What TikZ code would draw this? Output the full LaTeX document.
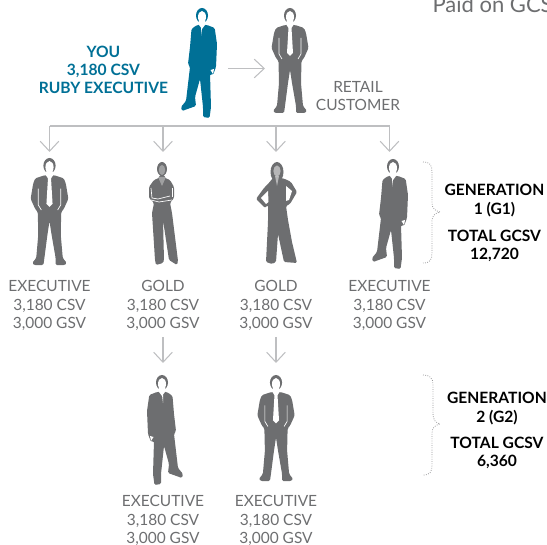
\documentclass[tikz,border=0pt]{standalone}
\usepackage{fontspec}
\setmainfont{Lato}
\usepackage{tikz}
\usepackage{xcolor}
\usetikzlibrary{arrows.meta}
\definecolor{figgray}{RGB}{109,110,112}
\definecolor{rubyblue}{RGB}{0,112,150}
\definecolor{arrowgray}{RGB}{190,191,193}
\tikzset{every picture/.style={line width=0.75pt}}
\tikzset{
  level/.style={draw=arrowgray,line width=1.1pt,-{Straight Barb[length=7.5pt,width=14pt,line width=0.8pt]}},
  busline/.style={draw=arrowgray,line width=1.1pt},
  brace/.style={draw=figgray!70,line width=0.6pt,dash pattern={on 0.6pt off 1.1pt}},
  member/.style={font=\fontsize{11.6}{14}\selectfont,text=figgray,align=center,inner sep=0pt},
  genlabel/.style={font=\fontsize{11.7}{13.6}\selectfont\bfseries,text=black,align=center,inner sep=0pt},
  %man seen from the front, hands in pockets
  manfront/.pic={
    \path[pic actions,rounded corners=1] (-5,17) -- (-14,20) -- (-16,25) -- (-18.5,40) -- (-14,50) -- (-11.5,53) -- (-11,75) -- (-13,98) -- (-17,103) -- (-15,105) -- (-6,105) -- (-5,98) -- (-2,75) -- (0,62) -- (2,75) -- (6,98) -- (6,105) -- (15,105) -- (17,103) -- (13,98) -- (11,75) -- (11.5,53) -- (14,50) -- (18.5,40) -- (16,25) -- (14,20) -- (5,17) -- cycle;
    \path[pic actions] (0,7.5) ellipse [x radius=6,y radius=7.5];
    \fill[white] (0,9) ellipse [x radius=4,y radius=6];
    \fill[white] (-3,12) -- (3,12) -- (3.5,17) -- (1.5,20) -- (3,45) -- (0,48) -- (-3,45) -- (-1.5,20) -- (-3.5,17) -- cycle;
    \draw[white,line width=0.5pt] (-11,30) -- (-11,46) -- (-8,51);
    \draw[white,line width=0.5pt] (11,30) -- (11,46) -- (8,51);
  },
  %man standing turned, one foot out
  manturned/.pic={
    \path[pic actions,rounded corners=1] (-5,17) -- (-10.5,21) -- (-12,39) -- (-14,56) -- (-12,59) -- (-16,93) -- (-21,99) -- (-20,103) -- (-6,98) -- (-7,89) -- (-2,71) -- (1,99) -- (1,109) -- (7.5,110) -- (9,99) -- (8,66) -- (11,67) -- (14,59) -- (15,36) -- (12.7,20) -- (5,17) -- cycle;
    \path[pic actions] (0,7.5) ellipse [x radius=6,y radius=7.5];
    \fill[white] (0,9) ellipse [x radius=4,y radius=6];
    \fill[white] (-3,12) -- (3,12) -- (3,17) -- (0,21) -- (-3,17) -- cycle;
    \fill[white] (-1,20) -- (0,20) -- (-1,28) -- cycle;
    \fill[white] (8.5,62) -- (12,61) -- (11,66) -- cycle;
  },
  %woman with crossed arms
  womanarms/.pic={
    \path[pic actions,rounded corners=1] (-2.5,13) -- (-3,16) -- (-8,18) -- (-13,25) -- (-13,36) -- (-8,41) -- (-10,51) -- (-7,98) -- (-6,103) -- (1,101) -- (2,98) -- (1,58) -- (7,98) -- (15,103) -- (16,99) -- (10,51) -- (8,41) -- (12,36) -- (12,25) -- (8,18) -- (3,16) -- (2.5,13) -- cycle;
    \path[pic actions] (0,7) ellipse [x radius=5,y radius=7];
    \fill[white,opacity=0.35] (0,8) ellipse [x radius=3.2,y radius=5];
    \fill[white,opacity=0.35] (-4,15) -- (4,15) -- (0,24) -- cycle;
    \draw[white,line width=0.5pt] (-11,26) -- (-10,36) -- (-4,37) -- (8,34);
    \draw[white,line width=0.5pt] (-11,38) -- (-3,40) -- (10,38);
    \draw[white,line width=0.5pt] (10,26) -- (10,35);
  },
  %woman with hands on hips, flared trousers
  womanhips/.pic={
    \path[pic actions,rounded corners=1] (-4,16) -- (-9,22) -- (-13,26) -- (-21,37) -- (-12,46) -- (-9,43) -- (-9,60) -- (-11,100) -- (-5,102) -- (-1,100) -- (1,72) -- (7,100) -- (20,101) -- (15,80) -- (11,58) -- (9,44) -- (13,42) -- (20,30) -- (14,20) -- (8,17) -- (4,16) -- cycle;
    \path[pic actions] (0,10) ellipse [x radius=6.5,y radius=10];
    \fill[white,opacity=0.5] (0,9) ellipse [x radius=3.6,y radius=5.5];
    \fill[white,opacity=0.5] (-2,14) -- (2,14) -- (0,24) -- cycle;
    \fill[white] (-16,36) -- (-9,29) -- (-8.5,40) -- (-11,42) -- cycle;
    \fill[white] (15,29) -- (9,24) -- (9,39) -- (12,38) -- cycle;
  }
}
\begin{document}
\begin{tikzpicture}[x=0.75pt,y=0.75pt,yscale=-1,xscale=1,every pic/.style={yscale=-1}]
\useasboundingbox (0,0) rectangle (547,545);

%people
\pic[fill=rubyblue] at (202,8) {manturned};
\pic[fill=figgray] at (290,8) {manfront};
\pic[fill=figgray,scale=1.02] at (49.5,158) {manfront};
\pic[fill=figgray] at (162,162) {womanarms};
\pic[fill=figgray] at (277,162) {womanhips};
\pic[fill=figgray] at (393,159) {manturned};
\pic[fill=figgray,xscale=-1] at (162,375) {manturned};
\pic[fill=figgray,scale=1.01] at (276,375) {manfront};

%anchors for the lines
\coordinate (youout) at (228,68.5);
\coordinate (retailin) at (265,68.5);
\coordinate (busa) at (49.5,126);
\coordinate (busb) at (163,126);
\coordinate (busc) at (276,126);
\coordinate (busd) at (389.5,126);
\coordinate (ina) at (49.5,152);
\coordinate (inb) at (163,152);
\coordinate (inc) at (276,152);
\coordinate (ind) at (389.5,152);
\coordinate (outb) at (163,337);
\coordinate (outc) at (276,337);
\coordinate (inf) at (163,363);
\coordinate (ing) at (276,363);

%Straight Lines
\draw [level] (youout) -- (retailin);
\draw [busline] (busa) -- (busd);
\draw [level] (busa) -- (ina);
\draw [level] (busb) -- (inb);
\draw [level] (busc) -- (inc);
\draw [level] (busd) -- (ind);
\draw [level] (outb) -- (inf);
\draw [level] (outc) -- (ing);

%Braces
\draw [brace] (423,162) .. controls (430,162) and (432,165) .. (432,172) -- (432,203) .. controls (432,208) and (435,211) .. (440,212) .. controls (435,213) and (432,216) .. (432,221) -- (432,253) .. controls (432,260) and (430,263) .. (423,263);
\draw [brace] (423,375) .. controls (430,375) and (433,378) .. (433,385) -- (433,414) .. controls (433,420) and (436,423) .. (440,424) .. controls (435,425) and (432,428) .. (432,433) -- (432,465) .. controls (432,472) and (430,475) .. (423,475);

% Text Node
\node [font=\fontsize{16.5}{18}\selectfont,text=figgray,anchor=base west,inner sep=0pt] (paid) at (432,13) {Paid on GCSV};
\node [genlabel,text=rubyblue] (you) at (103.5,69.5) {YOU\\3,180 CSV\\RUBY EXECUTIVE};
\node [member] (retail) at (358,96) {RETAIL\\CUSTOMER};
\node [member] (exea) at (49.5,305.5) {EXECUTIVE\\3,180 CSV\\3,000 GSV};
\node [member] (golda) at (163,305.5) {GOLD\\3,180 CSV\\3,000 GSV};
\node [member] (goldb) at (276,305.5) {GOLD\\3,180 CSV\\3,000 GSV};
\node [member] (exeb) at (389.5,305.5) {EXECUTIVE\\3,180 CSV\\3,000 GSV};
\node [member] (exec) at (163,520.5) {EXECUTIVE\\3,180 CSV\\3,000 GSV};
\node [member] (exed) at (276,520.5) {EXECUTIVE\\3,180 CSV\\3,000 GSV};
\node [genlabel] (gena) at (494.5,200.5) {GENERATION\\1 (G1)};
\node [genlabel] (tota) at (494.5,245.5) {TOTAL GCSV\\12,720};
\node [genlabel] (genb) at (497,408.5) {GENERATION\\2 (G2)};
\node [genlabel] (totb) at (497,453) {TOTAL GCSV\\6,360};

\end{tikzpicture}
\end{document}
